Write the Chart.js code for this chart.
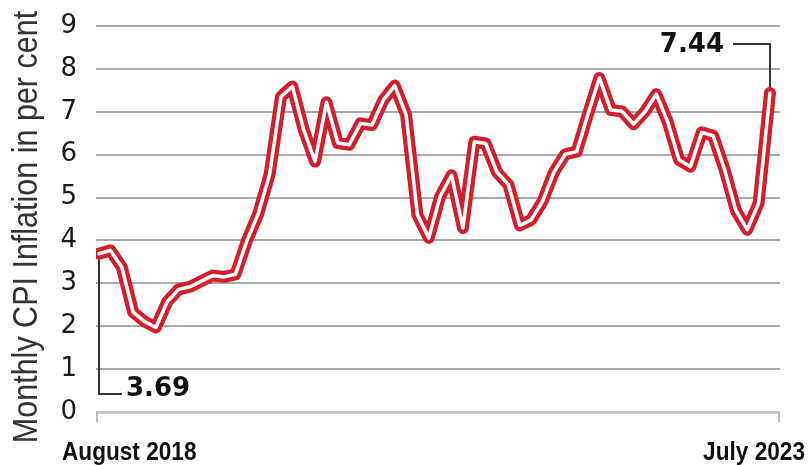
<!DOCTYPE html>
<html>
<head>
<meta charset="utf-8">
<script src="https://cdn.jsdelivr.net/npm/chart.js@4"></script>
<style>
html,body{margin:0;padding:0;background:#fff}
</style>
</head>
<body>
<canvas id="cpiChart" width="810" height="465"></canvas>
<script>
// monthly CPI inflation, Aug 2018 - Jul 2023
const months = [
 'Aug-18','Sep-18','Oct-18','Nov-18','Dec-18',
 'Jan-19','Feb-19','Mar-19','Apr-19','May-19','Jun-19','Jul-19','Aug-19','Sep-19','Oct-19','Nov-19','Dec-19',
 'Jan-20','Feb-20','Mar-20','Apr-20','May-20','Jun-20','Jul-20','Aug-20','Sep-20','Oct-20','Nov-20','Dec-20',
 'Jan-21','Feb-21','Mar-21','Apr-21','May-21','Jun-21','Jul-21','Aug-21','Sep-21','Oct-21','Nov-21','Dec-21',
 'Jan-22','Feb-22','Mar-22','Apr-22','May-22','Jun-22','Jul-22','Aug-22','Sep-22','Oct-22','Nov-22','Dec-22',
 'Jan-23','Feb-23','Mar-23','Apr-23','May-23','Jun-23','Jul-23'
]
const cpi = [
 3.69, 3.77, 3.38, 2.33, 2.11,
 1.97, 2.57, 2.86, 2.92, 3.05, 3.18, 3.15, 3.21, 3.99, 4.62, 5.54, 7.35,
 7.59, 6.58, 5.84, 7.22, 6.27, 6.23, 6.73, 6.69, 7.27, 7.61, 6.93, 4.59,
 4.06, 5.03, 5.52, 4.29, 6.30, 6.26, 5.59, 5.30, 4.35, 4.48, 4.91, 5.59,
 6.01, 6.07, 6.95, 7.79, 7.04, 7.01, 6.71, 7.00, 7.41, 6.77, 5.88, 5.72,
 6.52, 6.44, 5.66, 4.70, 4.25, 4.87, 7.44
]
const yMin = 0, yMax = 9
const startLabel = 'August 2018'
const endLabel = 'July 2023'
const yTitle = 'Monthly CPI Inflation in per cent'

const red = '#d21f2d'
const points = cpi.map((v, i) => ({x: i, y: v}))
const last = cpi.length - 1

// squeezed bold text for the two date labels
function narrowText(c, text, x, y, align) {
 const sx = 0.87
 c.save()
 c.translate(x, y)
 c.scale(sx, 1)
 c.textAlign = align
 c.fillText(text, 0, 0)
 c.restore()
}

// leader lines go under the line, labels on top
const callouts = {
 id: 'callouts',
 beforeDatasetsDraw(chart) {
  const c = chart.ctx, xs = chart.scales.x, ys = chart.scales.y
  const x0 = xs.getPixelForValue(0), y0 = ys.getPixelForValue(cpi[0])
  const x1 = xs.getPixelForValue(last), y1 = ys.getPixelForValue(cpi[last])
  const yLow = ys.getPixelForValue(0.42), yHigh = ys.getPixelForValue(8.58)
  c.save()
  c.strokeStyle = '#333'
  c.lineWidth = 2
  c.beginPath()
  c.moveTo(x0, y0); c.lineTo(x0, yLow); c.lineTo(x0 + 23, yLow)
  c.moveTo(x1, y1); c.lineTo(x1, yHigh); c.lineTo(x1 - 37, yHigh)
  c.stroke()
  // little end ticks on the zero line
  const yz = ys.getPixelForValue(0)
  c.strokeStyle = '#bdbdbd'
  c.beginPath()
  c.moveTo(chart.chartArea.left + 1, yz); c.lineTo(chart.chartArea.left + 1, yz + 10)
  c.moveTo(chart.chartArea.right - 1, yz); c.lineTo(chart.chartArea.right - 1, yz + 10)
  c.stroke()
  c.restore()
 },
 afterDatasetsDraw(chart) {
  const c = chart.ctx, xs = chart.scales.x, ys = chart.scales.y
  const x0 = xs.getPixelForValue(0), x1 = xs.getPixelForValue(last)
  c.save()
  c.fillStyle = '#111'
  c.font = 'bold 26px "DejaVu Sans"'
  c.textBaseline = 'middle'
  c.textAlign = 'left'
  c.fillText(cpi[0].toFixed(2), x0 + 27, ys.getPixelForValue(0.52))
  c.textAlign = 'right'
  c.fillText(cpi[last].toFixed(2), x1 - 46, ys.getPixelForValue(8.54))
  // end labels of the time axis
  c.font = 'bold 26px "Liberation Sans"'
  c.textBaseline = 'alphabetic'
  narrowText(c, startLabel, x0 - 37, 460, 'left')
  narrowText(c, endLabel, x1 + 35, 460, 'right')
  // vertical axis title, a little wider than the plain font
  c.fillStyle = '#333'
  c.font = '30.5px "Liberation Sans"'
  c.translate(37, 227)
  c.rotate(-Math.PI / 2)
  c.scale(1, 1.12)
  c.textAlign = 'center'
  c.fillText(yTitle, 0, 0)
  c.restore()
 }
}

const ctx = document.getElementById('cpiChart')
new Chart(ctx, {
 type: 'line',
 data: {
  labels: months,
  datasets: [{
   label: 'inner',
   data: points,
   borderColor: '#ffffff',
   borderWidth: 3.5,
   tension: 0,
   pointRadius: 0,
   borderJoinStyle: 'round',
   borderCapStyle: 'round'
  }, {
   label: 'CPI inflation',
   data: points,
   borderColor: red,
   borderWidth: 12,
   tension: 0,
   pointRadius: 0,
   borderJoinStyle: 'round',
   borderCapStyle: 'round'
  }]
 },
 options: {
  responsive: false,
  animation: false,
  layout: {padding: {top: 26, right: 30, bottom: 53, left: 0}},
  plugins: {legend: {display: false}, tooltip: {enabled: false}},
  scales: {
   x: {type: 'linear', min: -0.264, max: 59.88, display: false},
   y: {
    min: yMin,
    max: yMax,
    afterFit(s) {
     s.width = 96
     s.paddingTop = 0
     s.paddingBottom = 0
    },
    border: {display: false},
    grid: {
     drawTicks: false,
     color: c => c.tick && c.tick.value === 0 ? '#c4c4c4' : '#a9a9a9',
     lineWidth: c => c.tick && c.tick.value === 0 ? 3 : 2
    },
    ticks: {
     stepSize: 1,
     padding: 19,
     color: '#1a1a1a',
     font: {family: 'DejaVu Sans', size: 26}
    }
   }
  }
 },
 plugins: [callouts]
})
</script>
</body>
</html>
